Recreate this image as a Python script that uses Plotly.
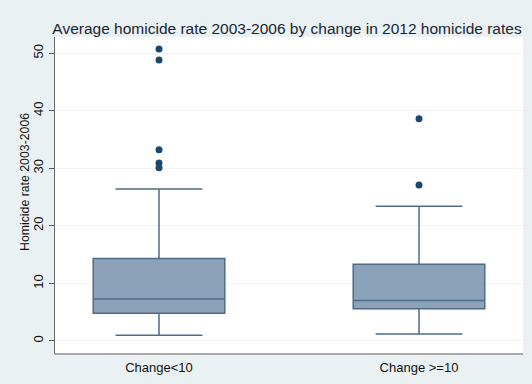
import plotly.graph_objects as go

# Groups and summary statistics of the 2003-2006 average homicide rate
groups = ["Change<10", "Change >=10"]
q1 = [4.8, 5.6]
median = [7.3, 7.0]
q3 = [14.3, 13.3]
lower_whisker = [1.0, 1.2]
upper_whisker = [26.4, 23.4]

# Outside values per group
outlier_group = ["Change<10"] * 5 + ["Change >=10"] * 2
outlier_value = [50.7, 48.8, 33.2, 30.9, 30.1, 38.6, 27.1]

y_ticks = [0, 10, 20, 30, 40, 50]

NAVY = "#1a476f"
BOX_FILL = "rgb(140,162,184)"
BOX_LINE = "rgb(78,108,138)"
FONT = "Liberation Sans, Arial, sans-serif"
W, H = 532, 384

fig = go.Figure()

fig.add_trace(go.Box(
    x=groups,
    q1=q1,
    median=median,
    q3=q3,
    lowerfence=lower_whisker,
    upperfence=upper_whisker,
    fillcolor=BOX_FILL,
    line=dict(color=BOX_LINE, width=1.5),
    width=0.506,
    whiskerwidth=0.66,
    boxpoints=False,
    showlegend=False,
    hoverinfo="skip",
))

fig.add_trace(go.Scatter(
    x=outlier_group,
    y=outlier_value,
    mode="markers",
    marker=dict(color=NAVY, size=7),
    showlegend=False,
    hoverinfo="skip",
))

fig.update_layout(
    width=W,
    height=H,
    margin=dict(l=55, r=9, t=37, b=31),
    paper_bgcolor="#eaf1f3",
    plot_bgcolor="white",
    font=dict(family=FONT, color="#111111"),
    title=dict(
        text="Average homicide rate 2003-2006 by change in 2012 homicide rates",
        x=287 / W, xanchor="center",
        y=1 - 29 / H, yanchor="middle",
        font=dict(size=15.5, color="#1a2433", family=FONT),
    ),
    annotations=[dict(
        text="Homicide rate 2003-2006",
        xref="paper", yref="paper",
        x=(25 - 55) / (W - 55 - 9),
        y=(H - 31 - 182) / (H - 37 - 31),
        xanchor="center", yanchor="middle",
        textangle=-90,
        showarrow=False,
        font=dict(size=12.3, color="#111111", family=FONT),
    )],
)

fig.update_xaxes(
    type="category",
    range=[-0.4, 1.4],
    showgrid=False,
    showline=True,
    linecolor="#a9a9a9",
    linewidth=1.5,
    ticks="",
    tickfont=dict(size=13, color="#111111"),
    ticklabelstandoff=2,
)

fig.update_yaxes(
    range=[-2.1, 52.8],
    tickvals=y_ticks,
    ticktext=[str(v) for v in y_ticks],
    tickangle=-90,
    ticks="outside",
    ticklen=5,
    tickcolor="#555555",
    tickfont=dict(size=13, color="#111111"),
    ticklabelstandoff=1,
    showline=True,
    linecolor="#666666",
    linewidth=1.2,
    showgrid=True,
    gridcolor="#eef3f3",
    gridwidth=1,
    zeroline=False,
)

fig.write_html("out.html")
